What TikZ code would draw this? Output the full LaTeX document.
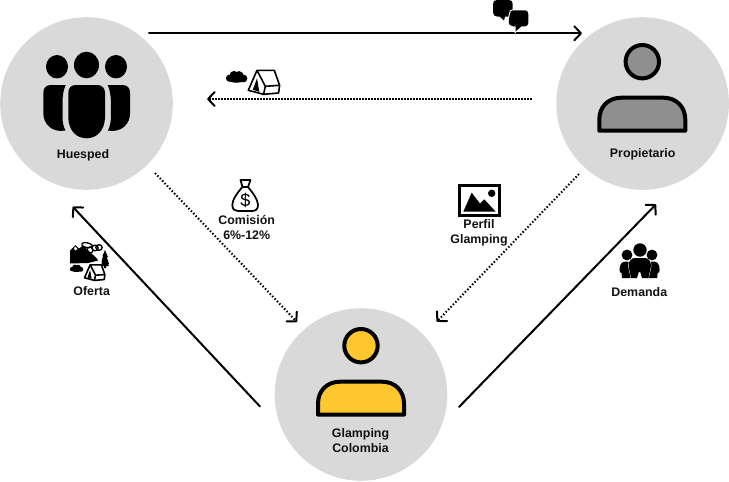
\documentclass[tikz,border=0pt]{standalone}
\usepackage{fontspec}
\setmainfont{Liberation Sans}
\usetikzlibrary{arrows.meta}
\definecolor{disc}{HTML}{D9D9D9}
\definecolor{amber}{HTML}{FFC72E}
\definecolor{midgray}{HTML}{8F8F8F}
\definecolor{ink}{HTML}{111111}
\tikzset{
  x=0.75pt,y=-0.75pt,
  disk/.style={fill=disc,draw=none},
  lab/.style={font=\fontsize{9.3}{11.25}\selectfont\bfseries,text=ink,align=center,inner sep=0pt},
  barb/.style={-{Straight Barb[length=5pt,width=10.5pt,line width=1.5pt,round]}},
  solidarrow/.style={barb,line width=1.5pt,black,line cap=round},
  dotarrow/.style={barb,line width=1.6pt,black,dash pattern=on 1.2pt off 1.05pt},
  diagdots/.style={barb,line width=1.5pt,black,dash pattern=on 1.1pt off 1.5pt},
  pics/personicon/.style={code={
    \draw[line width=3pt,fill=#1] (0,0) circle[radius=16.7];
    \draw[line width=3pt,fill=#1,line join=round]
      (-43,69) -- (-43,58) .. controls (-43,45) and (-34,36) .. (-21,36)
      -- (21,36) .. controls (34,36) and (43,45) .. (43,58) -- (43,69) -- cycle;
  }},
  pics/tenticon/.style={code={
    \draw[line width=1.2pt,fill=white,line join=round]
      (8.7,0) -- (26,0) -- (31.3,15) -- (30.3,22.7) -- (15.3,24) -- (0,20) -- cycle;
    \draw[line width=1.2pt,line join=round]
      (8.7,0) -- (17,16) -- (15.3,24) (17,16) -- (31.3,15);
    \fill (8.7,8) -- (11,21.5) -- (4.5,19.5) -- cycle;
  }},
  pics/cloudicon/.style={code={
    \fill (3.5,7.5) circle[radius=3.6] (8,4.6) circle[radius=4.4] (13,5) circle[radius=4.6]
      (17.5,7.8) circle[radius=3.9] (10.5,8) ellipse[x radius=9.5,y radius=4];
  }}
}
\begin{document}
\begin{tikzpicture}
\useasboundingbox (0,0) rectangle (729,482);
% discs
\fill[disk] (86.5,103.5) coordinate (hc) circle[radius=86.3];
\fill[disk] (642.6,103.5) coordinate (pc) circle[radius=86.3];
\fill[disk] (361,394.5) coordinate (gc) circle[radius=86.3];
% labels
\node[lab] (huesped) at (83,155.5) {Huesped};
\node[lab] (propietario) at (642.7,154) {Propietario};
\node[lab] (glamping) at (360.5,440.5) {Glamping\\Colombia};
\node[lab] (comision) at (246.7,227.5) {Comisión\\6\%-12\%};
\node[lab] (perfil) at (479,232.5) {Perfil\\Glamping};
\node[lab] (oferta) at (91.7,290.7) {Oferta};
\node[lab] (demanda) at (639.3,292.3) {Demanda};
% connector ends
\coordinate (a1) at (149,33.3);   \coordinate (a2) at (582,33.3);
\coordinate (b1) at (532,99);     \coordinate (b2) at (207,99);
\coordinate (c1) at (155,173);    \coordinate (c2) at (297,322);
\coordinate (d1) at (579,174);    \coordinate (d2) at (436.7,321.7);
\coordinate (e1) at (260,406.5);  \coordinate (e2) at (72.7,206.7);
\coordinate (f1) at (459,407);    \coordinate (f2) at (656,204.3);
\draw[solidarrow] (a1) -- (a2);
\draw[dotarrow] (b1) -- (b2);
\draw[diagdots] (c1) -- (c2);
\draw[diagdots] (d1) -- (d2);
\draw[solidarrow] (e1) -- (e2);
\draw[solidarrow] (f1) -- (f2);
% Huesped icon
\fill (57,66.7) ellipse[x radius=11,y radius=11.7] (86.5,65) ellipse[x radius=12.5,y radius=13.3] (116,66.7) ellipse[x radius=11,y radius=11.7];
\fill (76,85) -- (97,85) .. controls (102,85) and (105,88) .. (105,93) -- (105,117)
  .. controls (105,130) and (97,138.3) .. (86.7,138.3) .. controls (76,138.3) and (68.3,130) .. (68.3,117)
  -- (68.3,93) .. controls (68.3,88) and (71,85) .. cycle;
\fill (51,85) -- (65.7,85) .. controls (63.5,90) and (62.5,95) .. (62.5,103) -- (62.5,117)
  .. controls (62.5,122) and (63.5,127) .. (65.5,130.5) .. controls (52,133) and (43.3,124) .. (43.3,113)
  -- (43.3,93) .. controls (43.3,88) and (46,85) .. cycle;
\fill (122.4,85) -- (107.7,85) .. controls (109.9,90) and (110.9,95) .. (110.9,103) -- (110.9,117)
  .. controls (110.9,122) and (109.9,127) .. (107.9,130.5) .. controls (121.4,133) and (130.1,124) .. (130.1,113)
  -- (130.1,93) .. controls (130.1,88) and (127.4,85) .. cycle;
% person icons
\pic at (642.3,61.7) {personicon=midgray};
\pic at (361,345.7) {personicon=amber};
% chat bubbles
\fill (497,0) -- (509,0) .. controls (511.5,0) and (512.7,1.5) .. (512.7,4) -- (512.7,12)
  .. controls (512.7,15) and (511,16.5) .. (508.5,16.5) -- (505,16.5) -- (504,20.5) -- (499.5,16.5) -- (497,16.5)
  .. controls (494.5,16.5) and (493,15) .. (493,12) -- (493,4) .. controls (493,1.5) and (494.5,0) .. cycle;
\fill[preaction={draw=white,line width=1.5pt}] (513,10.3) -- (525,10.3) .. controls (527,10.3) and (528.3,11.5) .. (528.3,14) -- (528.3,23)
  .. controls (528.3,25) and (527,26.3) .. (525,26.3) -- (521.5,26.3) -- (515.5,31.5) -- (515.5,26.3) -- (513,26.3)
  .. controls (510,26.3) and (508.7,24) .. (508.7,22) .. controls (508.7,19) and (509.5,17) .. (510,14)
  .. controls (510.3,11.5) and (511,10.3) .. cycle;
% cloud and tent
\pic at (226,70.7) {cloudicon};
\pic at (248.3,70.3) {tenticon};
% money bag
\begin{scope}[line width=1.3pt,line join=round]
\draw (240.5,180) -- (250.5,180) -- (248,187) -- (242.5,187) -- cycle;
\draw (242.5,187) .. controls (237,193) and (232.3,200) .. (232.3,205)
  .. controls (232.3,209.5) and (235,211) .. (238,211) -- (252,211)
  .. controls (256,211) and (258,209) .. (258,205) .. controls (258,200) and (253,193) .. (248,187);
\end{scope}
\node[inner sep=0pt,font=\fontsize{13.5}{13.5}\selectfont] (dollar) at (245.4,200) {\$};
% picture icon
\draw[line width=2.2pt] (459.7,185.3) rectangle (499.7,215.3);
\fill (491.7,193.3) circle[radius=3.7];
\fill (463.3,211.7) -- (471.7,192.7) -- (480,203.5) -- (484.3,199.3) -- (495.7,211.7) -- cycle;
% Demanda icon
\fill (640,250) circle[radius=6.7] (627,255) circle[radius=5.4] (652,255) circle[radius=5.4];
\fill (619.5,270) .. controls (619.5,264) and (622,261.5) .. (626,261.5) .. controls (630,261.5) and (633,264) .. (633,270)
  -- (632,278) -- (622,278) -- (621.5,273) .. controls (620.5,273) and (619.5,272) .. (619.5,270) -- cycle;
\fill (659.7,270) .. controls (659.7,264) and (657.2,261.5) .. (653.2,261.5) .. controls (649.2,261.5) and (646.2,264) .. (646.2,270)
  -- (647.2,278) -- (657.2,278) -- (657.7,273) .. controls (658.7,273) and (659.7,272) .. (659.7,270) -- cycle;
\fill[preaction={draw=white,line width=0.6pt}] (628.5,266) .. controls (628.5,260.5) and (632,258) .. (635,258) -- (645,258)
  .. controls (648,258) and (651,260.5) .. (651,266) -- (648.5,278) -- (642,278) -- (640.3,272) -- (638.8,272) -- (637,278) -- (631,278) -- cycle;
% Oferta icon
\fill (70,250.5) -- (75.5,245) -- (79,248.5) -- (83,245.5) -- (97,258.5) -- (98,260.5) -- (88,263) -- (70,263.5) -- cycle;
\fill[white] (74,248) -- (75.5,246.5) -- (77.5,249) -- (75,250.5) -- cycle;
\begin{scope}[line width=1pt,fill=white]
\draw (82,243.5) .. controls (84,241.5) and (90,243) .. (92,245) .. controls (93,247) and (90,248) .. (87,247.5) .. controls (84,247) and (81,246) .. (82,243.5);
\draw (90,250) circle[radius=3];
\draw (95,248) ellipse[x radius=3.2,y radius=2.8];
\draw (99,247.5) ellipse[x radius=3.2,y radius=2.8];
\end{scope}
\fill (105,250) -- (108,257) -- (106.8,257) -- (109,264) -- (108,264) -- (109,266) -- (106,266) -- (106,268) -- (104,268) -- (104,266) -- (101,266) -- (102,262) -- (101.5,262) -- (103,256) -- (102.5,256) -- cycle;
\pic[scale=0.62] at (70,264.5) {cloudicon};
\pic[scale=0.65] at (84.5,264.8) {tenticon};
\end{tikzpicture}
\end{document}
